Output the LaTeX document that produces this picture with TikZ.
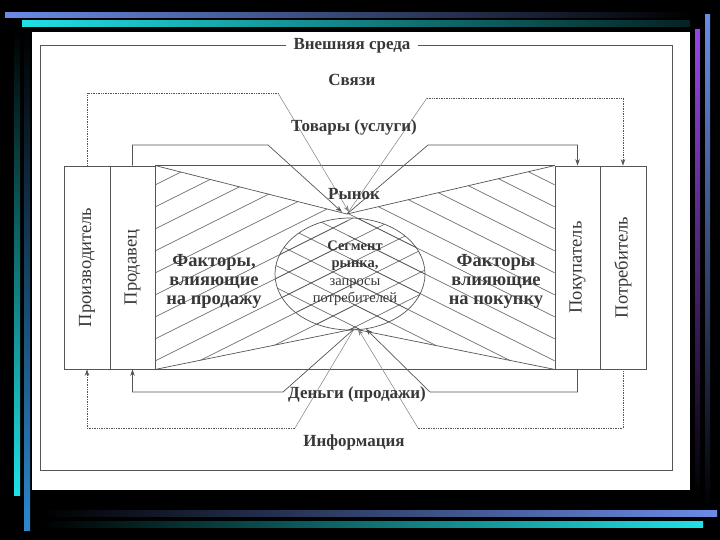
\documentclass[tikz,border=0pt]{standalone}
\usepackage{fontspec}
\setmainfont{Liberation Serif}
\usetikzlibrary{arrows.meta,shapes.geometric}
\definecolor{ink}{HTML}{383838}
\definecolor{lin}{HTML}{555555}
\definecolor{barblue}{RGB}{105,140,230}
\definecolor{barcyan}{RGB}{30,225,230}
\definecolor{barpurple}{RGB}{150,70,230}
\definecolor{barsteel}{RGB}{45,135,205}
\begin{document}
\begin{tikzpicture}[x=1pt,y=-1pt,
  ln/.style={draw=lin, line width=0.7pt},
  dl/.style={draw=lin, line width=0.7pt, densely dotted},
  tl/.style={draw=lin!75, line width=0.5pt},
  hatch/.style={draw=lin, line width=0.6pt},
  box/.style={draw=lin, line width=0.8pt, minimum width=#1, minimum height=203pt, inner sep=0pt},
  bt/.style={text=ink, font=\bfseries\fontsize{17}{19}\selectfont, inner sep=1pt},
  ft/.style={text=ink, font=\bfseries\fontsize{18.5}{19}\selectfont, inner sep=1pt, align=center},
  vt/.style={text=ink, rotate=90, font=\fontsize{18.5}{20}\selectfont},
  arr/.style={-{Stealth[length=6.5pt,width=4.5pt]}}
]
\useasboundingbox (0,0) rectangle (720,540);
\fill[black] (0,0) rectangle (720,540);
% decorative bars
\shade[left color=barblue, right color=black] (5,13) rectangle (692,18);
\shade[left color=barcyan, right color=black!85!barcyan] (22,21) rectangle (690,27);
\shade[top color=black, bottom color=barcyan] (14,30) rectangle (20,495);
\shade[top color=black, bottom color=barsteel] (24,30) rectangle (30,530);
\shade[top color=barpurple, bottom color=black] (695,30) rectangle (700,500);
\shade[top color=barblue, bottom color=black] (705,15) rectangle (710,510);
\shade[left color=black, right color=barblue] (40,510) rectangle (717,516);
\shade[left color=black, right color=barcyan] (40,521) rectangle (703,527);
% white panel
\fill[white] (32,32) rectangle (690,490);

% boxes
\node[box=46pt] (prod) at (87,267.5) {};
\node[box=45pt] (sell) at (132.5,267.5) {};
\node[box=45pt] (buy) at (577.5,267.5) {};
\node[box=46pt] (cons) at (623,267.5) {};
\coordinate (T) at (347,214);
\coordinate (B) at (354,329);

% hatching
\begin{scope}
\clip (sell.north east) -- (T) -- (B) -- (sell.south east) -- cycle;
\foreach \c in {185,207,...,490} \draw[hatch] (155,\c) -- (555,{\c-200});
\end{scope}
\begin{scope}
\clip (350,274) ellipse [x radius=75pt, y radius=56pt];
\foreach \c in {185,207,...,490} \draw[hatch] (155,\c) -- (555,{\c-200});
\foreach \c in {185,207,...,490} \draw[hatch] (555,\c) -- (155,{\c-200});
\end{scope}
\begin{scope}
\clip (buy.north west) -- (T) -- (B) -- (buy.south west) -- cycle;
\foreach \c in {185,207,...,490} \draw[hatch] (555,\c) -- (155,{\c-200});
\end{scope}

% central rectangle and bow-tie
\draw[ln] (sell.north east) -- (buy.north west);
\draw[ln] (sell.south east) -- (buy.south west);
\draw[ln] (sell.north east) -- (T) -- (buy.north west);
\draw[ln] (sell.south east) -- (B) -- (buy.south west);
\node[draw=lin, line width=0.7pt, ellipse, minimum width=150pt, minimum height=112pt, inner sep=0pt] (seg) at (350,274) {};

% frame
\node[bt] (title) at (352,46) {Внешняя среда};
\coordinate (fTL) at (40,45);
\coordinate (fBL) at (40,470);
\coordinate (fBR) at (672,470);
\coordinate (fTR) at (672,45);
\draw[ln] ([xshift=-6pt]title.west |- fTL) -- (fTL) -- (fBL) -- (fBR) -- (fTR) -- ([xshift=6pt]title.east |- fTR);

% Связи
\coordinate (s1) at (87,93);
\coordinate (s2) at (278,93);
\coordinate (s3) at (427,98);
\coordinate (s4) at (623,98);
\coordinate (Ta) at (349,212);
\coordinate (Tb) at (342,212);
\draw[dl] (prod.north) -- (s1) -- (s2);
\draw[tl,arr] (s2) -- (Ta);
\draw[tl] (T) -- (s3);
\draw[dl,arr] (s3) -- (s4) -- (cons.north);

% Товары
\coordinate (g1) at (132.5,145);
\coordinate (g2) at (268,145);
\coordinate (g3) at (428,145);
\coordinate (g4) at (577.5,145);
\draw[ln,arr] (sell.north) -- (g1) -- (g2) -- (Tb);
\draw[ln,arr] (T) -- (g3) -- (g4) -- (buy.north);

% Деньги
\coordinate (m1) at (577.5,392);
\coordinate (m2) at (430,392);
\coordinate (m3) at (283,392);
\coordinate (m4) at (132.5,392);
\coordinate (Ba) at (366,329);
\coordinate (Bb) at (358,329);
\draw[ln,arr] (buy.south) -- (m1) -- (m2) -- (Ba);
\draw[ln,arr] (B) -- (m3) -- (m4) -- (sell.south);

% Информация
\coordinate (i1) at (623,428);
\coordinate (i2) at (418,428);
\coordinate (i3) at (295,428);
\coordinate (i4) at (87,428);
\draw[dl] (cons.south) -- (i1) -- (i2);
\draw[tl,arr] (i2) -- (Bb);
\draw[tl] (B) -- (i3);
\draw[dl,arr] (i3) -- (i4) -- (prod.south);

% texts
\node[vt] (prodl) at (prod) {Производитель};
\node[vt] (selll) at (sell) {Продавец};
\node[vt] (buyl) at (buy) {Покупатель};
\node[vt] (consl) at (cons) {Потребитель};
\node[bt] (svyazi) at (352,80) {Связи};
\node[bt] (tovary) at (354,127) {Товары (услуги)};
\node[bt] (rynok) at (354,194) {Рынок};
\node[bt] (dengi) at (357,394) {Деньги (продажи)};
\node[bt] (info) at (354,442) {Информация};
\node[ft] (fl) at (214,281) {Факторы,\\влияющие\\на продажу};
\node[ft] (fr) at (496,281) {Факторы\\влияющие\\на покупку};
\node[text=ink, align=center, font=\fontsize{14.5}{17.5}\selectfont] (segt) at (355,273) {\textbf{Сегмент}\\\textbf{рынка,}\\запросы\\потребителей};
\end{tikzpicture}
\end{document}
